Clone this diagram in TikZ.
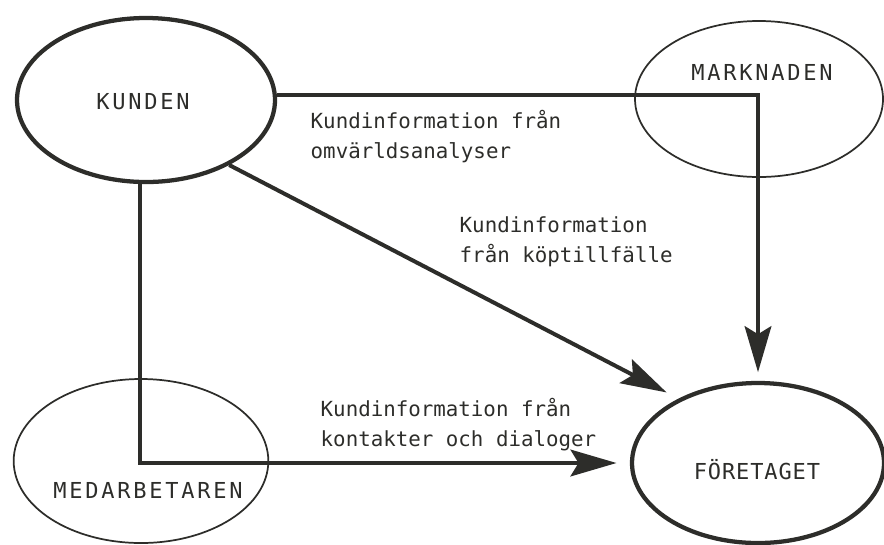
\documentclass[tikz,border=0pt]{standalone}
\usepackage{fontspec}
\setmonofont{DejaVu Sans Mono}
\usetikzlibrary{arrows.meta,shapes.geometric}

\definecolor{inkgray}{RGB}{45,45,42}

\tikzset{
  sphere/.style={ellipse, draw=inkgray, line width=1.3pt, inner sep=0pt},
  thicksphere/.style={sphere, line width=3.2pt},
  spherename/.style={font=\fontsize{16.5}{20}\ttfamily\addfontfeature{LetterSpace=12.5}, text=inkgray},
  flowtext/.style={font=\fontsize{15.6}{22.5}\ttfamily, text=inkgray, align=left, anchor=west},
  infoflow/.style={draw=inkgray, line width=3pt, -{Stealth[length=34.5pt,width=20pt,inset=6pt]}}
}

\begin{document}
\begin{tikzpicture}[x=0.75pt,y=0.75pt,yscale=-1]
\useasboundingbox (0,0) rectangle (884,544);

%Shape: Ellipse
\node [thicksphere, minimum width=193.5pt, minimum height=123pt] (kunden) at (146,100) {};
%Shape: Ellipse
\node [sphere, minimum width=186pt, minimum height=117pt] (marknaden) at (759,99) {};
%Shape: Ellipse
\node [sphere, minimum width=191pt, minimum height=123pt] (medarbetaren) at (141,461) {};
%Shape: Ellipse
\node [thicksphere, minimum width=189pt, minimum height=120pt] (foretaget) at (758,463) {};

%Straight Lines
\draw [infoflow, shorten >=6.5pt] (kunden.2) -| (foretaget.north) ;
%Straight Lines
\draw [infoflow, shorten >=10pt] (kunden.-38) -- (foretaget.141) ;
%Straight Lines
\draw [infoflow, shorten >=10pt] (kunden.-94) |- (foretaget.west) ;

% Text Node
\node [spherename] (kunden label) at (143,102) {KUNDEN};
% Text Node
\node [spherename] (marknaden label) at (762,72) {MARKNADEN};
% Text Node
\node [spherename] (medarbetaren label) at (148,490) {MEDARBETAREN};
% Text Node
\node [spherename, font=\fontsize{16.5}{20}\ttfamily\addfontfeature{LetterSpace=4}] (foretaget label) at (757,470) {FÖRETAGET};
% Text Node
\node [flowtext] (omvarld text) at (306,137) {Kundinformation från\\omvärldsanalyser};
% Text Node
\node [flowtext] (kop text) at (455,242) {Kundinformation\\från köptillfälle};
% Text Node
\node [flowtext] (kontakt text) at (316,425) {Kundinformation från\\kontakter och dialoger};

\end{tikzpicture}
\end{document}
